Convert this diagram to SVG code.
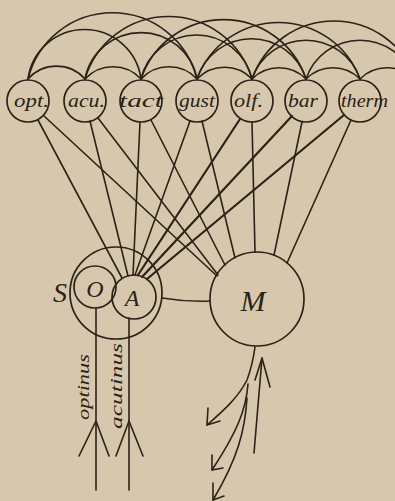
<svg xmlns="http://www.w3.org/2000/svg" width="395" height="501" viewBox="0 0 395 501">
<style>
.ln{fill:none;stroke:#2b2218;stroke-width:1.6;stroke-linecap:round;stroke-linejoin:round}
.hv{stroke-width:2.2}
.nd{fill:none;stroke:#2b2218;stroke-width:1.7}
.lb{font-family:"Liberation Serif","DejaVu Serif",serif;font-style:italic;fill:#2b2218}
</style>
<rect width="395" height="501" fill="#d7c8ad"/>
<g id="connectors">
<g id="arcs-small">
<path class="ln" d="M28,79 A38,38 0 0 1 85,79"/>
<path class="ln" d="M85,79 A38,38 0 0 1 141,79"/>
<path class="ln" d="M141,79 A38,38 0 0 1 197,79"/>
<path class="ln" d="M197,79 A38,38 0 0 1 252,79"/>
<path class="ln" d="M252,79 A38,38 0 0 1 306,79"/>
<path class="ln" d="M306,79 A38,38 0 0 1 360,79"/>
<path class="ln" d="M360,79 A38,38 0 0 1 414,79"/>
</g>
<g id="arcs-mid">
<path class="ln" d="M28,79 A57,57 0 0 1 141,79"/>
<path class="ln" d="M85,79 A57,57 0 0 1 197,79"/>
<path class="ln" d="M141,79 A57,57 0 0 1 252,79"/>
<path class="ln" d="M197,79 A57,57 0 0 1 306,79"/>
<path class="ln" d="M252,79 A57,57 0 0 1 360,79"/>
<path class="ln" d="M306,79 A57,57 0 0 1 414,79"/>
</g>
<g id="arcs-large">
<path class="ln" d="M28,79 A87,87 0 0 1 197,79"/>
<path class="ln" d="M85,79 A87,87 0 0 1 252,79"/>
<path class="ln" d="M141,79 A87,87 0 0 1 306,79"/>
<path class="ln" d="M197,79 A87,87 0 0 1 360,79"/>
<path class="ln" d="M252,79 A87,87 0 0 1 416,79"/>
</g>
<g id="to-A">
<path class="ln" d="M38,120 L122,278"/>
<path class="ln" d="M90,121 L128,276"/>
<path class="ln" d="M140,122 L133,275"/>
<path class="ln" d="M190,121 L135,275"/>
<path class="ln hv" d="M240,119 L138,275"/>
<path class="ln hv" d="M292,116 L142,277"/>
<path class="ln hv" d="M344,115 L147,279"/>
</g>
<g id="to-M">
<path class="ln" d="M44,116 L217,276"/>
<path class="ln" d="M98,118 L218,275"/>
<path class="ln" d="M151,120 L225,265"/>
<path class="ln" d="M202,121 L235,258"/>
<path class="ln" d="M252,122 L255,252"/>
<path class="ln" d="M302,122 L274,255"/>
<path class="ln" d="M351,120 L287,263"/>
</g>
<path class="ln" d="M162,298 Q186,302 210,301"/>
<g id="nerves">
<path class="ln" d="M96,308 L96,490"/>
<path class="ln" d="M129,318 L129,490"/>
<path class="ln" d="M79,456 L96,421 L109,456"/>
<path class="ln" d="M116,456 L129,421 L143,456"/>
</g>
<g id="motor">
<path class="ln" d="M255,347 C253,362 250,372 247,380 C238,398 222,412 207,425"/>
<path class="ln" d="M208,408 L207,425 L220,421"/>
<path class="ln" d="M248,384 C246,410 237,432 212,470"/>
<path class="ln" d="M212,455 L212,470 L223,468"/>
<path class="ln" d="M247,398 C245,430 238,458 213,500"/>
<path class="ln" d="M213,483 L213,500 L224,496"/>
<path class="ln" d="M254,453 L262,358"/>
<path class="ln" d="M255,380 L262,358 L270,387"/>
</g>
</g>
<g id="opt"><circle class="nd" cx="28" cy="101" r="21"/><text class="lb" x="14" y="107" font-size="19" textLength="35" lengthAdjust="spacingAndGlyphs">opt.</text></g>
<g id="acu"><circle class="nd" cx="85" cy="101" r="21"/><text class="lb" x="68" y="107" font-size="19" textLength="37" lengthAdjust="spacingAndGlyphs">acu.</text></g>
<g id="tact"><circle class="nd" cx="141" cy="101" r="21"/><text class="lb" x="119" y="107" font-size="19" textLength="44" lengthAdjust="spacingAndGlyphs">tact</text></g>
<g id="gust"><circle class="nd" cx="197" cy="101" r="21"/><text class="lb" x="179" y="107" font-size="19" textLength="36" lengthAdjust="spacingAndGlyphs">gust</text></g>
<g id="olf"><circle class="nd" cx="252" cy="101" r="21"/><text class="lb" x="234" y="107" font-size="19" textLength="29" lengthAdjust="spacingAndGlyphs">olf.</text></g>
<g id="bar"><circle class="nd" cx="306" cy="101" r="21"/><text class="lb" x="288" y="107" font-size="19" textLength="30" lengthAdjust="spacingAndGlyphs">bar</text></g>
<g id="therm"><circle class="nd" cx="360" cy="101" r="21"/><text class="lb" x="341" y="107" font-size="19" textLength="47" lengthAdjust="spacingAndGlyphs">therm</text></g>
<g id="S"><circle class="nd" cx="116" cy="293" r="46"/><text class="lb" x="60" y="302" font-size="28" text-anchor="middle">S</text></g>
<g id="O"><circle class="nd" cx="95" cy="287" r="21"/><text class="lb" x="95" y="297" font-size="24" text-anchor="middle">O</text></g>
<g id="A"><circle class="nd" cx="134" cy="297" r="22"/><text class="lb" x="132" y="306" font-size="24" text-anchor="middle">A</text></g>
<g id="M"><circle class="nd" cx="257" cy="299" r="47"/><text class="lb" x="253" y="311" font-size="30" text-anchor="middle">M</text></g>
<g id="labels">
<text class="lb" font-size="17" text-anchor="middle" textLength="66" lengthAdjust="spacingAndGlyphs" transform="translate(89,387) rotate(-90)">optinus</text>
<text class="lb" font-size="17" text-anchor="middle" textLength="86" lengthAdjust="spacingAndGlyphs" transform="translate(122,386) rotate(-90)">acutinus</text>
</g>
</svg>
